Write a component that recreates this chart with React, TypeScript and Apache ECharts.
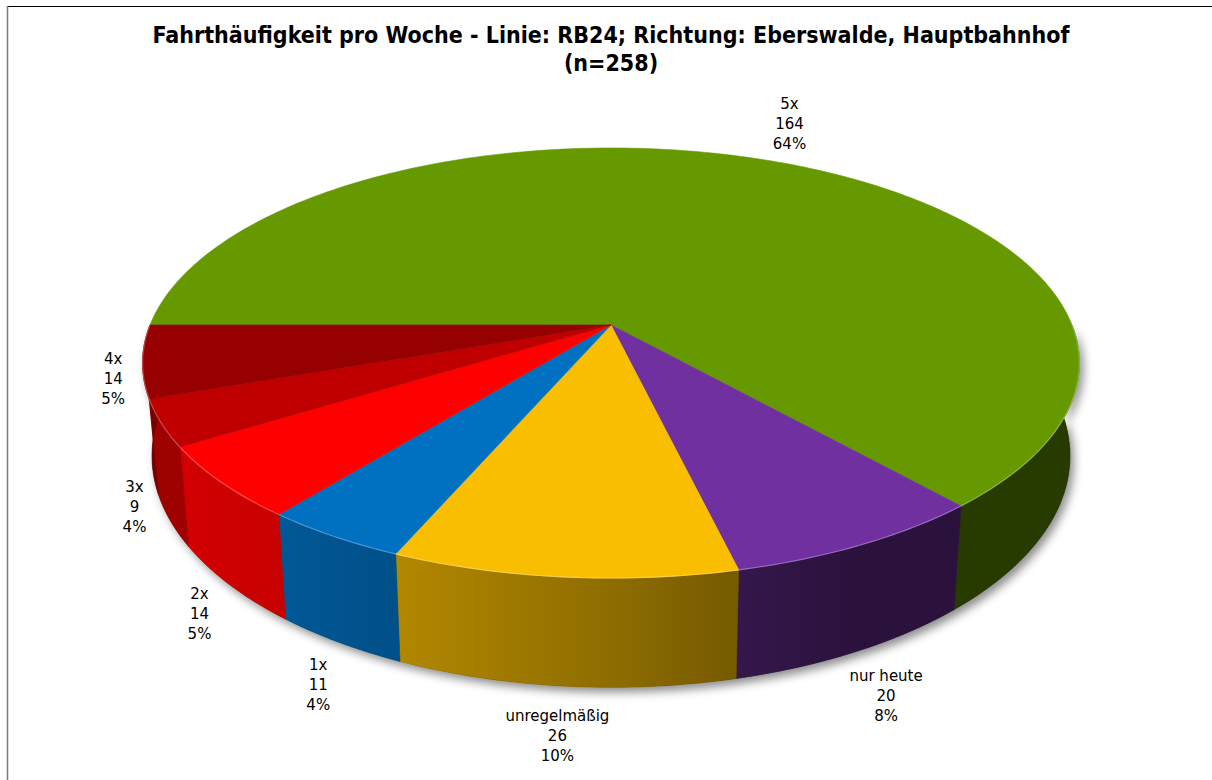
import React, { useEffect, useRef } from "react";
import * as echarts from "echarts";

// ---------- data ----------
const categories = ["5x", "nur heute", "unregelmäßig", "1x", "2x", "3x", "4x"];
const counts = [164, 20, 26, 11, 14, 9, 14];
const topColors = ["#669900", "#7030A0", "#F9BE00", "#0070C0", "#FF0000", "#C00000", "#960000"];
const titleLine = "Fahrthäufigkeit pro Woche - Linie: RB24; Richtung: Eberswalde, Hauptbahnhof";

// ---------- derived ----------
const total = counts.reduce((a, b) => a + b, 0);
const cumBefore: number[] = [];
counts.reduce((acc, v, i) => {
  cumBefore[i] = acc;
  return acc + v;
}, 0);
// largest-remainder percentages (sum to 100, like the spreadsheet labels)
const pcts = (() => {
  const raw = counts.map((v) => (v * 100) / total);
  const fl = raw.map(Math.floor);
  const rest = 100 - fl.reduce((a, b) => a + b, 0);
  const order = raw.map((r, i) => [r - Math.floor(r), i]).sort((a, b) => b[0] - a[0]);
  for (let j = 0; j < rest; j++) fl[order[j][1]] += 1;
  return fl;
})();

// ---------- layout / style ----------
const W = 1212;
const H = 780;
const CX = 611;
const CY = 325;
const RX = 461;
const RY = 208.3;
const K = 0.1767; // perspective
const DEPTH = 90;
const BOTTOM_SCALE = 0.98;
const START = Math.PI; // first slice starts at 9 o'clock, clockwise
const TAU = Math.PI * 2;
const LABEL_SIZE = 15;
const LABEL_FAMILY = "DejaVu Sans";
const LINE_H = 20;
const GAP_X = 18;
const GAP_Y_FRONT = 20;
const GAP_Y_BACK = 11;

function depthWeight(s: number): number {
  if (s <= 0.15) return 0;
  return Math.pow(Math.min(1, (s - 0.15) / 0.55), 0.7);
}

function proj(theta: number, bottom = false): number[] {
  const u = Math.cos(theta);
  const v = Math.sin(theta);
  const d = 1 - K * v;
  let x = (RX * u) / d;
  let y = (RY * v) / d;
  if (bottom) {
    x *= BOTTOM_SCALE;
    y += DEPTH / d;
  }
  return [CX + x, CY + y];
}

function arc(a: number, b: number, bottom: boolean): number[][] {
  const n = Math.max(2, Math.ceil(Math.abs(b - a) / (Math.PI / 180)));
  const pts: number[][] = [];
  for (let i = 0; i <= n; i++) pts.push(proj(a + ((b - a) * i) / n, bottom));
  return pts;
}

function shade(theta: number): number {
  return 0.38 + 0.45 * Math.max(0, Math.cos(theta - (155 * Math.PI) / 180));
}

function scaleColor(hex: string, f: number, add = 0): string {
  const n = parseInt(hex.slice(1), 16);
  const r = (n >> 16) & 255;
  const g = (n >> 8) & 255;
  const b = n & 255;
  const c = (x: number) => Math.max(0, Math.min(255, Math.round(x * f + add * (255 - x))));
  return `rgb(${c(r)},${c(g)},${c(b)})`;
}

let measureCtx: CanvasRenderingContext2D | null = null;
function measure(t: string): number {
  if (!measureCtx) measureCtx = document.createElement("canvas").getContext("2d");
  if (!measureCtx) return t.length * 8;
  measureCtx.font = `${LABEL_SIZE}px '${LABEL_FAMILY}'`;
  return measureCtx.measureText(t).width;
}

function visibleFront(a0: number, a1: number): number[][] {
  const out: number[][] = [];
  for (let k = 0; k < 3; k++) {
    const lo = Math.max(a0, k * TAU);
    const hi = Math.min(a1, k * TAU + Math.PI);
    if (hi - lo > 1e-6) out.push([lo, hi]);
  }
  return out;
}

export default function App() {
  const ref = useRef<HTMLDivElement>(null);

  useEffect(() => {
    if (!ref.current) return;
    const chart = echarts.init(ref.current, undefined, { renderer: "svg" });

    const renderItem = (params: any, api: any) => {
      const i = params.dataIndex;
      const val = api.value(0) as number;
      const before = api.value(1) as number;
      const a0 = START + (TAU * before) / total;
      const a1 = a0 + (TAU * val) / total;
      const base = topColors[i];
      const children: any[] = [];

      if (i === 0) {
        // soft shadow under the whole front wall
        const pts = arc(0, Math.PI, false).concat(arc(Math.PI, 0, true));
        children.push({
          type: "polygon",
          shape: { points: pts },
          z2: 0,
          style: {
            fill: "#333",
            shadowBlur: 10,
            shadowOffsetX: 4,
            shadowOffsetY: 5,
            shadowColor: "rgba(0,0,0,0.45)",
          },
        });
      }

      // outer walls (front half only)
      visibleFront(a0, a1).forEach(([lo, hi]) => {
        const top = arc(lo, hi, false);
        const bot = arc(hi, lo, true);
        const pts = top.concat(bot);
        const xs = pts.map((p) => p[0]);
        const minX = Math.min(...xs);
        const maxX = Math.max(...xs);
        const stops: { offset: number; color: string }[] = [];
        const m = 6;
        for (let j = 0; j <= m; j++) {
          const th = lo + ((hi - lo) * j) / m;
          const x = proj(th, false)[0];
          const off = maxX - minX > 0 ? (x - minX) / (maxX - minX) : 0;
          stops.push({ offset: Math.max(0, Math.min(1, off)), color: scaleColor(base, shade(th)) });
        }
        stops.sort((a, b) => a.offset - b.offset);
        const grad = new echarts.graphic.LinearGradient(0, 0, 1, 0, stops);
        children.push({
          type: "polygon",
          shape: { points: pts },
          z2: 2,
          style: { fill: grad, stroke: grad, lineWidth: 0.6 },
        });
        // light rim along the top edge
        children.push({
          type: "polyline",
          shape: { points: top },
          z2: 12,
          style: { stroke: scaleColor(base, 1, 0.35), lineWidth: 1.2, fill: null, opacity: 0.8 },
        });
      });

      // top face
      const topPts = [[CX, CY]].concat(arc(a0, a1, false));
      children.push({
        type: "polygon",
        shape: { points: topPts },
        z2: 10,
        style: { fill: base, stroke: base, lineWidth: 0.6 },
      });

      // label
      const mid = (a0 + a1) / 2;
      const c = Math.cos(mid);
      const s = Math.sin(mid);
      const p = proj(mid, false);
      const depth = s > 0 ? (depthWeight(s) * DEPTH) / (1 - K * s) : 0;
      const lines = [categories[i], String(val), pcts[i] + "%"];
      const hw = Math.max(...lines.map(measure)) / 2;
      const hh = (lines.length * LINE_H) / 2;
      const gy = s > 0 ? GAP_Y_FRONT : GAP_Y_BACK;
      children.push({
        type: "text",
        z2: 20,
        x: p[0] + c * (hw + GAP_X),
        y: p[1] + depth + s * (hh + gy),
        style: {
          text: lines.join("\n"),
          align: "center",
          verticalAlign: "middle",
          fontFamily: LABEL_FAMILY,
          fontSize: LABEL_SIZE,
          lineHeight: LINE_H,
          fill: "#000",
        },
      });

      return { type: "group", children };
    };

    chart.setOption({
      animation: false,
      backgroundColor: "#fff",
      graphic: [
        { type: "line", shape: { x1: 7, y1: 6.5, x2: W, y2: 6.5 }, style: { stroke: "#000", lineWidth: 1.2 } },
        { type: "line", shape: { x1: 7.5, y1: 6, x2: 7.5, y2: H }, style: { stroke: "#7a7a7a", lineWidth: 1.5 } },
        {
          type: "text",
          x: CX,
          y: 21,
          style: {
            text: `${titleLine}\n(n=${total})`,
            align: "center",
            verticalAlign: "top",
            fontFamily: "'DejaVu Sans Condensed', 'DejaVu Sans'",
            fontWeight: "bold",
            fontSize: 23,
            lineHeight: 28,
            fill: "#000",
          },
        },
      ],
      series: [
        {
          type: "custom",
          coordinateSystem: "none",
          renderItem,
          data: counts.map((v, i) => [v, cumBefore[i]]),
          silent: true,
        },
      ],
    });

    return () => chart.dispose();
  }, []);

  return (
    <div
      ref={ref}
      style={{ position: "fixed", left: 0, top: 0, width: W, height: H, background: "#fff" }}
    />
  );
}
